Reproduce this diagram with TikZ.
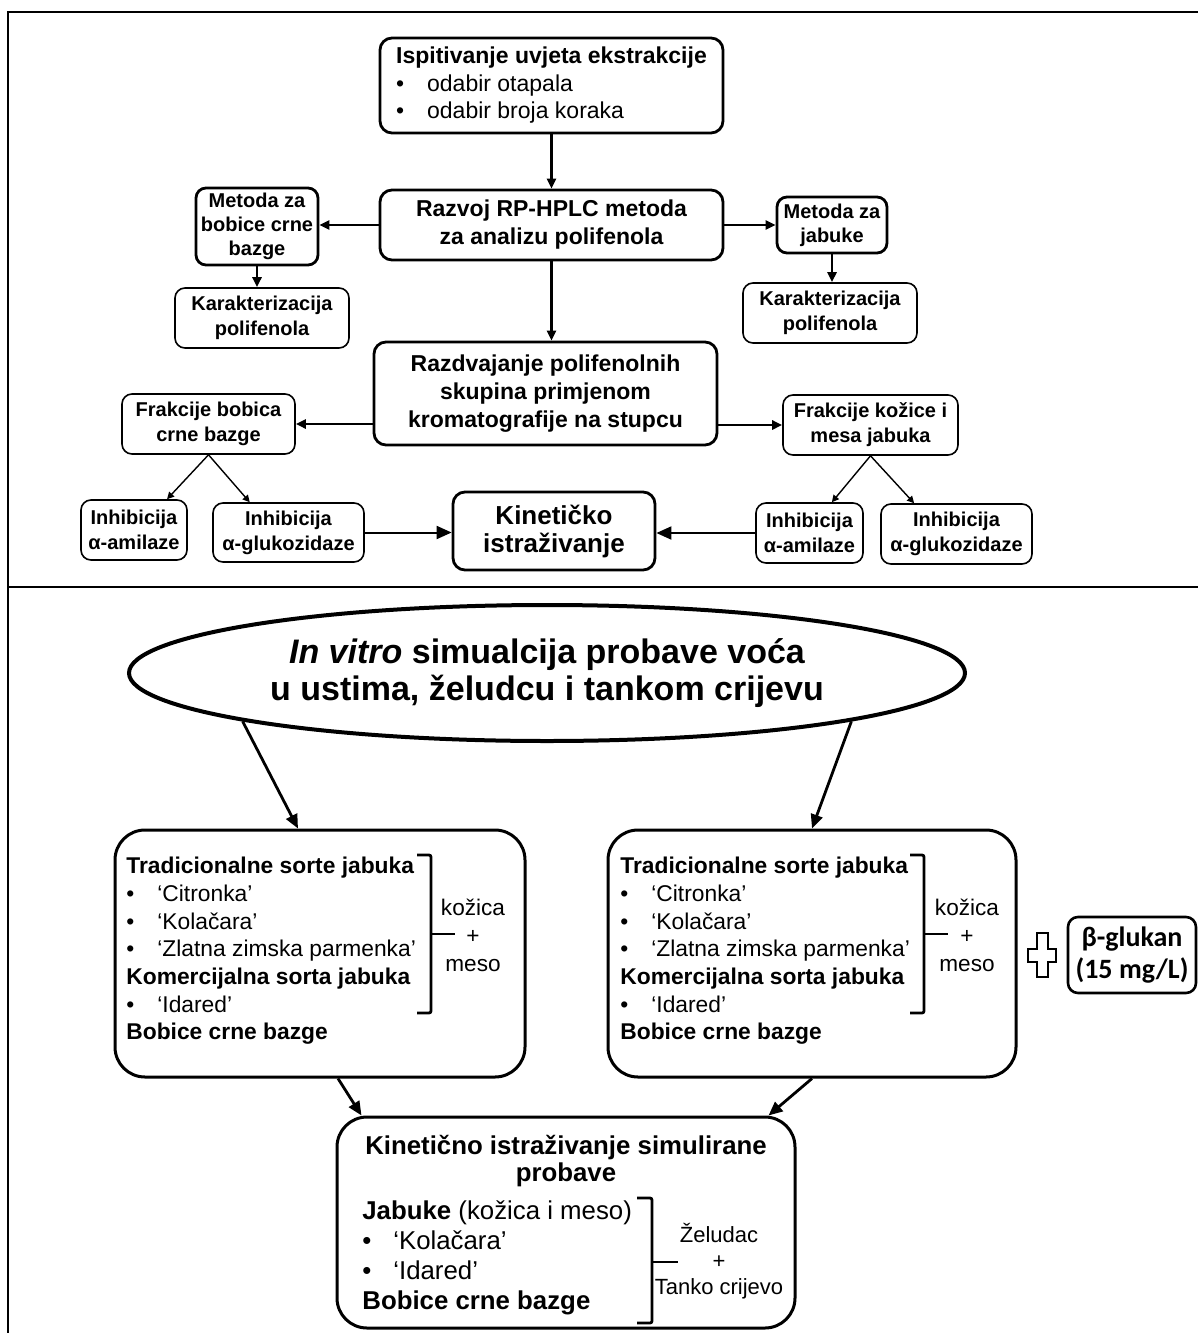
\documentclass[tikz,border=0pt]{standalone}
\usepackage{fontspec}
\setmainfont{Liberation Sans}
\newfontfamily\calfont{Carlito}
\usetikzlibrary{arrows.meta,shapes.geometric}

\newcommand{\itm}{\makebox[15.5pt][l]{\textbullet}}

\begin{document}
\begin{tikzpicture}[
    x=0.5pt, y=-0.5pt,
    mainbox/.style={draw, line width=1.4pt, rounded corners=6pt, align=center, inner sep=0pt,
                font=\bfseries\fontsize{11.5}{14}\selectfont},
    midbox/.style={draw, line width=1.4pt, rounded corners=5pt, align=center, inner sep=0pt,
                font=\bfseries\fontsize{10}{12}\selectfont},
    smallbox/.style={draw, line width=0.8pt, rounded corners=5pt, align=center, inner sep=0pt,
                font=\bfseries\fontsize{10}{12.5}\selectfont},
    bigbox/.style={draw, line width=1.5pt, rounded corners=15pt, inner sep=0pt},
    listtxt/.style={align=left, inner sep=0pt, font=\fontsize{11.4}{13.83}\selectfont},
    bracelbl/.style={align=center, inner sep=0pt, font=\fontsize{11.3}{14}\selectfont},
    brk/.style={line width=1.4pt, rounded corners=1pt},
    frame/.style={line width=0.8pt},
    thickarrow/.style={-{Triangle[length=5pt, width=4.5pt]}, line width=1.3pt},
    thinarrow/.style={-{Triangle[length=3.5pt, width=3.5pt]}, line width=0.7pt},
    kinarrow/.style={-{Triangle[length=7.5pt, width=6.5pt]}, line width=1pt},
    bigarrow/.style={-{Triangle[length=7pt, width=6pt]}, line width=1.4pt}
]
\useasboundingbox (0,0) rectangle (1198,1333);

% ---------- frame ----------
\draw[frame] (1198,12) -- (8,12) -- (8,1333);
\draw[frame, line width=1.2pt] (8,587) -- (1198,587);

% ---------- upper part: method development ----------
\node[mainbox, minimum width=171.5pt, minimum height=47.5pt, align=left,
      font=\bfseries\fontsize{11.5}{13.75}\selectfont] (ispit) at (551.5,85.5)
   {Ispitivanje uvjeta ekstrakcije\\ {\mdseries\itm odabir otapala}\\ {\mdseries\itm odabir broja koraka}};
\node[mainbox, minimum width=171.5pt, minimum height=35pt] (razvoj) at (551.5,225)
   {Razvoj RP-HPLC metoda\\za analizu polifenola};
\node[midbox, minimum width=61pt, minimum height=38.5pt] (metL) at (257,226.5)
   {Metoda za\\bobice crne\\bazge};
\node[midbox, minimum width=55pt, minimum height=28pt] (metR) at (832,225)
   {Metoda za\\jabuke};
\node[smallbox, minimum width=87pt, minimum height=30pt] (karL) at (262,318)
   {Karakterizacija\\polifenola};
\node[smallbox, minimum width=87pt, minimum height=30pt] (karR) at (830,313)
   {Karakterizacija\\polifenola};
\node[mainbox, minimum width=171.5pt, minimum height=51.5pt] (razdv) at (545.5,393.5)
   {Razdvajanje polifenolnih\\skupina primjenom\\kromatografije na stupcu};
\node[smallbox, minimum width=86.5pt, minimum height=30pt] (fraL) at (208.5,424)
   {Frakcije bobica\\crne bazge};
\node[smallbox, minimum width=87.5pt, minimum height=30pt] (fraR) at (870.5,425)
   {Frakcije kožice i\\mesa jabuka};
\node[smallbox, minimum width=53pt, minimum height=30pt] (amilL) at (134,530)
   {Inhibicija\\α-amilaze};
\node[smallbox, minimum width=75.5pt, minimum height=29.5pt] (glukL) at (288.5,532.5)
   {Inhibicija\\α-glukozidaze};
\node[smallbox, minimum width=53.5pt, minimum height=30pt] (amilR) at (809.5,533)
   {Inhibicija\\α-amilaze};
\node[smallbox, minimum width=75.5pt, minimum height=30pt] (glukR) at (956.5,534)
   {Inhibicija\\α-glukozidaze};
\node[mainbox, minimum width=101pt, minimum height=39pt,
      font=\bfseries\fontsize{13}{14}\selectfont] (kin) at (554,531)
   {Kinetičko\\istraživanje};

\draw[thickarrow] (ispit) -- (razvoj);
\draw[thickarrow] (razvoj.west) -- (razvoj.west -| metL.east);
\draw[thickarrow] (razvoj.east) -- (razvoj.east -| metR.west);
\draw[thickarrow] (metL.south) -- (metL.south |- karL.north);
\draw[thickarrow] (metR.south) -- (metR.south |- karR.north);
\draw[thickarrow] (razvoj.south) -- (razvoj.south |- razdv.north);
\draw[thickarrow] (razdv.west |- fraL.east) -- (fraL.east);
\draw[thickarrow] (razdv.east |- fraR.west) -- (fraR.west);
\draw[thinarrow] (fraL.south) -- (amilL.43);
\draw[thinarrow] (fraL.south) -- (glukL.142);
\draw[thinarrow] (fraR.south) -- (amilR.54);
\draw[thinarrow] (fraR.south) -- (glukR.144);
\draw[kinarrow] (glukL.east) -- (glukL.east -| kin.west);
\draw[kinarrow] (amilR.west) -- (amilR.west -| kin.east);

% ---------- lower part: in vitro digestion ----------
\node[ellipse, draw, line width=2pt, minimum width=418pt, minimum height=68pt, inner sep=0pt,
      align=center, font=\bfseries\fontsize{17}{18.5}\selectfont] (vitro) at (547,673)
   {\textit{In vitro} simualcija probave voća\\u ustima, želudcu i tankom crijevu};

\node[bigbox, minimum width=205pt, minimum height=123.5pt] (trad1) at (320,953.5) {};
\node[listtxt, anchor=west] (list1) at (126,951)
   {\textbf{Tradicionalne sorte jabuka}\\ \itm `Citronka'\\ \itm `Kolačara'\\
    \itm `Zlatna zimska parmenka'\\ \textbf{Komercijalna sorta jabuka}\\ \itm `Idared'\\
    \textbf{Bobice crne bazge}};
\draw[brk] (417,855) -- (431,855) -- (431,1013) -- (417,1013);
\draw[brk] (431,934) -- (455,934);
\node[bracelbl] (skin1) at (473,935) {kožica\\+\\meso};

\node[bigbox, minimum width=204pt, minimum height=123.5pt] (trad2) at (812,953.5) {};
\node[listtxt, anchor=west] (list2) at (620,951)
   {\textbf{Tradicionalne sorte jabuka}\\ \itm `Citronka'\\ \itm `Kolačara'\\
    \itm `Zlatna zimska parmenka'\\ \textbf{Komercijalna sorta jabuka}\\ \itm `Idared'\\
    \textbf{Bobice crne bazge}};
\draw[brk] (910,855) -- (924,855) -- (924,1013) -- (910,1013);
\draw[brk] (924,934) -- (948,934);
\node[bracelbl] (skin2) at (967,935) {kožica\\+\\meso};

% plus sign and beta-glucan
\draw[line width=1pt] (1042,955) ++(-5.5,-22) -- ++(11,0) -- ++(0,15.5) -- ++(8.5,0)
   -- ++(0,13) -- ++(-8.5,0) -- ++(0,15.5) -- ++(-11,0) -- ++(0,-15.5) -- ++(-8.5,0)
   -- ++(0,-13) -- ++(8.5,0) -- cycle;
\node[draw, line width=1.3pt, rounded corners=5pt, minimum width=64pt, minimum height=38pt,
      inner sep=0pt, align=center, font=\calfont\bfseries\fontsize{14}{16}\selectfont] (glukan)
   at (1132,955) {β-glukan\\(15 mg/L)};

\node[bigbox, minimum width=229pt, minimum height=105.5pt] (kinsim) at (566,1222.5) {};
\node[align=center, inner sep=0pt, font=\bfseries\fontsize{12.9}{13.5}\selectfont] (kstitle)
   at (566,1161.5) {Kinetično istraživanje simulirane\\probave};
\node[listtxt, anchor=west, font=\fontsize{12.9}{15}\selectfont] (list3) at (362,1257.5)
   {\textbf{Jabuke} (kožica i meso)\\ \itm `Kolačara'\\ \itm `Idared'\\ \textbf{Bobice crne bazge}};
\draw[brk] (637,1198) -- (652,1198) -- (652,1323) -- (637,1323);
\draw[brk] (652,1262) -- (678,1262);
\node[bracelbl, font=\fontsize{11}{13}\selectfont] (organ) at (719,1261)
   {Želudac\\+\\Tanko crijevo};

\draw[bigarrow] (vitro.189) -- ([xshift=-11pt]trad1.north);
\draw[bigarrow] (vitro.351) -- (trad2.north);
\draw[bigarrow] ([xshift=9pt]trad1.south) -- ([xshift=13pt]kinsim.north west);
\draw[bigarrow] (trad2.south) -- ([xshift=-14pt]kinsim.north east);

\end{tikzpicture}
\end{document}
